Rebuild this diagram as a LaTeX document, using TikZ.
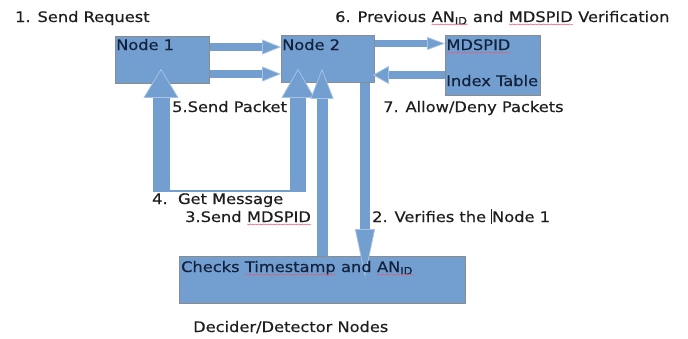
\documentclass[tikz,border=0pt]{standalone}
\usepackage{fontspec}
\setmainfont{DejaVu Sans}[FakeStretch=1.12,FakeBold=0.4]
\usetikzlibrary{arrows.meta,calc,decorations.pathmorphing}
\definecolor{boxblue}{HTML}{729FCF}
\definecolor{boxedge}{HTML}{8C8C8C}
\definecolor{tipedge}{HTML}{A9C4E6}
\definecolor{navy}{HTML}{14213D}
\definecolor{labelgray}{HTML}{1E1E1E}
\definecolor{squigred}{HTML}{E0607A}
\newcommand\wavy[1]{\tikz[baseline=(wv.base)]{\node[inner sep=0pt,outer sep=0pt](wv){#1};\draw[squigred,line width=0.5pt,decorate,decoration={snake,amplitude=0.5pt,segment length=2.6pt}] ([yshift=-2.5pt]wv.base west) -- ([yshift=-2.5pt]wv.base east);}}
\tikzset{
  box/.style={draw=boxedge, fill=boxblue, line width=0.8pt, inner sep=0pt, anchor=north west},
  btext/.style={anchor=base west, inner sep=0pt, text=navy},
  ltext/.style={anchor=base west, inner sep=0pt, text=labelgray},
  blk/.style args={#1/#2/#3}{draw=boxblue, line width=#1,
     -{Triangle[length=#3, width=#2, line width=0.7pt, fill=boxblue, color=tipedge]}},
}
\begin{document}
\begin{tikzpicture}[x=1pt,y=-1pt,font=\fontsize{14.5}{17}\selectfont]
\fill[white] (0,0) rectangle (688,338);
\useasboundingbox (0,0) rectangle (688,338);
% boxes
\node[box, minimum width=94pt, minimum height=47pt] (n1) at (115,36) {};
\node[box, minimum width=93pt, minimum height=47pt] (n2) at (281,35) {};
\node[box, minimum width=95pt, minimum height=60pt] (mt) at (445,35) {};
\node[box, minimum width=286pt, minimum height=47pt] (chk) at (179,256) {};
% U-shaped pair of arrows
\coordinate (u1) at (161,192);
\coordinate (u2) at (298,192);
\draw[boxblue, line width=2.5pt] ($(u1)+(-8,-1)$) -- ($(u2)+(8,-1)$);
\draw[blk={17pt/35pt/29pt}, shorten >=-15pt] (u1) -- (u1 |- n1.south);
\draw[blk={16pt/33pt/29pt}, shorten >=-14pt] (u2) -- (u2 |- n2.south);
% Node 1 -> Node 2
\draw[blk={8pt/15pt/19pt}] (n1.east |- 0,47) -- (n2.west |- 0,47);
\draw[blk={8pt/15pt/19pt}] (n1.east |- 0,74) -- (n2.west |- 0,74);
% Node 2 <-> table
\draw[blk={7pt/13pt/18pt}] (n2.east |- 0,43.5) -- (mt.west |- 0,43.5);
\draw[blk={8pt/18pt/16pt}, shorten >=-2pt] (mt.west |- 0,75) -- (n2.east |- 0,75);
% Checks <-> Node 2
\draw[blk={11pt/23pt/30pt}, shorten >=-14pt] (chk.north -| 322,0) -- (n2.south -| 322,0);
\draw[blk={10pt/20pt/48pt}, shorten >=-21pt] (n2.south -| 365,0) -- (chk.north -| 365,0);
% box texts
\node[btext] (n1t) at ($(n1.north west)+(1,14)$) {Node 1};
\node[btext] (n2t) at ($(n2.north west)+(1,15)$) {Node 2};
\node[btext] (mt1) at ($(mt.north west)+(1,15)$) {\wavy{MDSPID}};
\node[btext] (mt2) at ($(mt.north west)+(1,51)$) {Index Table};
\node[btext] (chkt) at ($(chk.north west)+(2,16)$) {Checks \wavy{Timestamp} and \wavy{AN\textsubscript{ID}}};
% labels
\node[ltext] (t1) at (15,22) {1. Send Request};
\node[ltext] (t6) at (335,22) {6. Previous \wavy{AN\textsubscript{ID}} and \wavy{MDSPID} Verification};
\node[ltext] (t5) at (172,112) {5.Send Packet};
\node[ltext] (t7) at (383,112) {7. Allow/Deny Packets};
\node[ltext] (t4) at (152,204) {4.\ \ Get Message};
\node[ltext] (t3) at (185,222) {3.Send \wavy{MDSPID}};
\node[ltext] (t2) at (372,222) {2. Verifies the \rule[-2pt]{0.9pt}{15pt}Node 1};
\node[ltext] (tdd) at (193,332) {Decider/Detector Nodes};
\end{tikzpicture}
\end{document}
